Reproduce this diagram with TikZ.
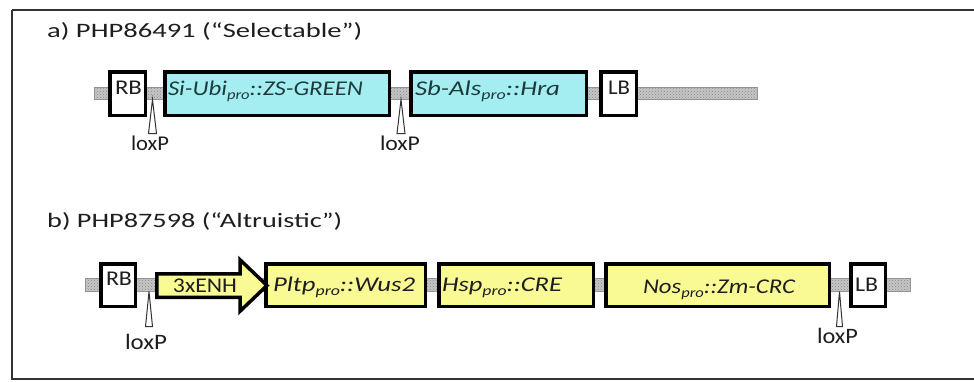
\documentclass[tikz,border=0pt]{standalone}
\usepackage{fontspec}
\setmainfont{Carlito}
\usepackage{graphicx}
\usetikzlibrary{patterns}

\definecolor{boxcyan}{HTML}{A4EEF2}
\definecolor{boxyellow}{HTML}{FAFA94}
\definecolor{inkgray}{HTML}{1E1E1E}
\definecolor{inkteal}{HTML}{1E3A3A}

% subscript "pro" and horizontally stretched text of a given width
\newcommand\pro{\raisebox{-0.45ex}{\fontsize{14}{14}\selectfont pro}}
\newcommand\wtext[2]{\resizebox{#1}{\height}{#2}}

\begin{document}
\begin{tikzpicture}[x=1pt,y=-1pt,
  frame/.style={draw=black!80, line width=2pt},
  part/.style={draw=black, line width=3.5pt, inner sep=0pt, anchor=center},
  cyanpart/.style={part, fill=boxcyan},
  yellowpart/.style={part, fill=boxyellow},
  borderpart/.style={part, fill=white},
  rowa/.style={minimum height=43.5pt},
  rowb/.style={minimum height=42.5pt},
  txt/.style={text=inkgray, inner sep=0pt, anchor=base, font=\fontsize{21}{25}\selectfont},
  ttl/.style={txt, anchor=base west, font=\fontsize{20.5}{25}\selectfont},
  bbone/.style={preaction={fill=gray!45}, pattern=crosshatch dots, pattern color=gray!95, draw=gray!85, line width=0.7pt},
  lox/.style={draw=black!80, line width=1pt, fill=white},
  enh/.style={draw=black, line width=3.5pt, fill=boxyellow, line join=miter}
]
\useasboundingbox (0,0) rectangle (974,381);
\draw[frame] (12,10) -- (980,10) (12,10) -- (12,379) -- (980,379);

% ---------------- a) PHP86491 ----------------
\node[ttl] (ta) at (47,37) {\wtext{315pt}{a) PHP86491 (“Selectable”)}};

\coordinate (a0) at (94,93.5);
\coordinate (a9) at (757,93.5);
\fill[bbone] ([yshift=6pt]a0) rectangle ([yshift=-6pt]a9);

\node[borderpart, rowa, minimum width=35.5pt] (rba) at (127.5,93.5) {};
\node[cyanpart, rowa, minimum width=224.5pt] (ubi) at (277,93.5) {};
\node[cyanpart, rowa, minimum width=175.5pt] (als) at (498.5,93.5) {};
\node[borderpart, rowa, minimum width=35.5pt] (lba) at (618.5,93.5) {};

\node[txt] (rbat) at (128.5,94) {\wtext{27pt}{RB}};
\node[txt, text=inkteal] (ubit) at (265.5,95) {\wtext{195pt}{\itshape Si-Ubi\pro::ZS-GREEN}};
\node[txt, text=inkteal] (alst) at (487.5,95) {\wtext{145pt}{\itshape Sb-Als\pro::Hra}};
\node[txt] (lbat) at (619,94) {\wtext{22pt}{LB}};

% loxP sites
\coordinate (la1) at (152.5,99.5);
\coordinate (la2) at (401,99.5);
\draw[lox] (la1) -- ++(-4,34) -- ++(8,0) -- cycle;
\draw[lox] (la2) -- ++(-4,34) -- ++(8,0) -- cycle;
\node[txt] (lat1) at (150,150) {\wtext{38pt}{loxP}};
\node[txt] (lat2) at (400,150) {\wtext{40pt}{loxP}};

% ---------------- b) PHP87598 ----------------
\node[ttl] (tb) at (47,227) {\wtext{295pt}{b) PHP87598 (“Altruistic”)}};

\coordinate (b0) at (85,285);
\coordinate (b9) at (910,285);
\fill[bbone] ([yshift=6.5pt]b0) rectangle ([yshift=-6.5pt]b9);

\node[borderpart, rowb, minimum width=34.5pt] (rbb) at (118,285) {};
\node[yellowpart, rowb, minimum width=159.5pt] (pltp) at (345.5,285) {};
\node[yellowpart, rowb, minimum width=154.5pt] (hsp) at (516,285) {};
\node[yellowpart, rowb, minimum width=223.5pt] (nos) at (717.5,285) {};
\node[borderpart, rowb, minimum width=34.5pt] (lbb) at (868,285) {};

% enhancer arrow, its tip resting on the Pltp box
\draw[enh] (156.75,273.75) -- (240,273.75) -- (240,259.75) -- (267,285.5)
  -- (240,311.25) -- (240,297.25) -- (156.75,297.25) -- cycle;

\node[txt] (rbbt) at (119,285) {\wtext{26pt}{RB}};
\node[txt] (enht) at (205,292) {\wtext{64pt}{3xENH}};
\node[txt] (pltpt) at (344,291) {\wtext{142pt}{\itshape Pltp\pro::Wus2}};
\node[txt] (hspt) at (502,291) {\wtext{120pt}{\itshape Hsp\pro::CRE}};
\node[txt] (nost) at (719,293) {\wtext{152pt}{\itshape Nos\pro::Zm-CRC}};
\node[txt] (lbbt) at (866.5,291.5) {\wtext{23pt}{LB}};

\coordinate (lb1) at (149,291.5);
\coordinate (lb2) at (839.5,291.5);
\draw[lox] (lb1) -- ++(-3.5,35) -- ++(7,0) -- cycle;
\draw[lox] (lb2) -- ++(-3,35) -- ++(6,0) -- cycle;
\node[txt, font=\fontsize{22}{26}\selectfont] (lbt1) at (146,349) {\wtext{42pt}{loxP}};
\node[txt, font=\fontsize{22}{26}\selectfont] (lbt2) at (837.5,343.5) {\wtext{41pt}{loxP}};
\end{tikzpicture}
\end{document}
